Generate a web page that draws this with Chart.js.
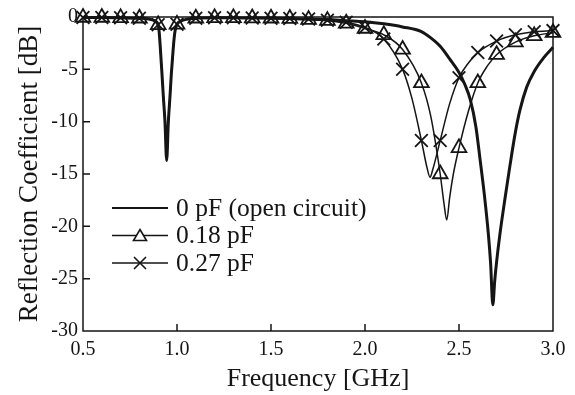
<!DOCTYPE html>
<html>
<head>
<meta charset="utf-8">
<script src="https://cdn.jsdelivr.net/npm/chart.js@4"></script>
<style>
  html, body { margin: 0; padding: 0; background: #fff; }
</style>
</head>
<body>
<canvas id="myChart" width="575" height="395"></canvas>
<script>
// low band (first resonance), shared by the three curves
const lowFreq = [0.5, 0.6, 0.7, 0.8, 0.85, 0.88, 0.9, 0.905, 0.91, 0.915, 0.92, 0.927, 0.936, 0.945, 0.954, 0.963, 0.97, 0.975, 0.98, 0.985, 0.99, 1.0, 1.02, 1.05, 1.1, 1.2, 1.3, 1.4, 1.5, 1.6]
const lowDb = [-0.05, -0.05, -0.08, -0.12, -0.2, -0.35, -0.75, -1.4, -2.6, -4.0, -5.4, -7.5, -10.0, -13.7, -10.0, -7.5, -5.4, -4.2, -3.0, -2.0, -1.3, -0.7, -0.4, -0.22, -0.12, -0.08, -0.08, -0.1, -0.12, -0.15]

// high band, per capacitance
const freqOpen = [1.7, 1.8, 1.9, 2.0, 2.1, 2.2, 2.3, 2.35, 2.4, 2.45, 2.5, 2.53, 2.56, 2.59, 2.612, 2.635, 2.656, 2.668, 2.68, 2.69, 2.7, 2.718, 2.745, 2.771, 2.8, 2.824, 2.86, 2.9, 2.95, 3.0]
const dbOpen = [-0.2, -0.25, -0.35, -0.45, -0.65, -0.95, -1.4, -2.0, -2.8, -4.0, -5.3, -6.4, -7.9, -10.5, -13.6, -17.0, -20.7, -23.5, -27.5, -25.2, -23.4, -20.7, -17.3, -14.2, -11.0, -8.9, -6.7, -5.2, -3.9, -2.9]

const freq018 = [1.7, 1.8, 1.9, 2.0, 2.1, 2.2, 2.3, 2.35, 2.4, 2.42, 2.435, 2.45, 2.47, 2.5, 2.55, 2.6, 2.65, 2.7, 2.8, 2.9, 3.0]
const db018 = [-0.25, -0.35, -0.6, -1.1, -1.7, -3.1, -6.3, -9.5, -15.0, -17.8, -19.4, -17.3, -15.0, -12.5, -9.0, -6.3, -4.7, -3.6, -2.4, -1.8, -1.5]

const freq027 = [1.7, 1.8, 1.9, 2.0, 2.1, 2.2, 2.25, 2.3, 2.33, 2.346, 2.36, 2.4, 2.45, 2.5, 2.55, 2.6, 2.7, 2.8, 2.9, 3.0]
const db027 = [-0.2, -0.3, -0.5, -1.0, -2.1, -5.0, -7.8, -11.8, -14.4, -15.3, -14.6, -11.8, -8.3, -5.8, -4.4, -3.4, -2.3, -1.7, -1.4, -1.3]

const seriesLabels = ['0 pF (open circuit)', '0.18 pF', '0.27 pF']
const xTicks = [0.5, 1.0, 1.5, 2.0, 2.5, 3.0]
const yTicks = [0, -5, -10, -15, -20, -25, -30]

const INK = '#151515'
const SERIF = '"Liberation Serif", "Times New Roman", serif'

function toPoints(f, d) {
  return f.map(function (x, i) { return { x: x, y: d[i] } })
}

// markers only every 0.1 GHz
function onGrid(ctx) {
  var x = ctx.raw ? ctx.raw.x : 0
  return Math.abs(x * 10 - Math.round(x * 10)) < 1e-6
}

var frameTicks = {
  id: 'frameTicks',
  afterDatasetsDraw: function (chart) {
    var ctx = chart.ctx, a = chart.chartArea
    var xs = chart.scales.x, ys = chart.scales.y
    ctx.save()
    ctx.strokeStyle = INK
    ctx.lineWidth = 1.5
    ctx.strokeRect(a.left, a.top, a.right - a.left, a.bottom - a.top)
    ctx.beginPath()
    xTicks.slice(1, -1).forEach(function (v) {
      var px = xs.getPixelForValue(v)
      ctx.moveTo(px, a.bottom)
      ctx.lineTo(px, a.bottom - 7)
    })
    yTicks.slice(1, -1).forEach(function (v) {
      var py = ys.getPixelForValue(v)
      ctx.moveTo(a.left, py)
      ctx.lineTo(a.left + 7, py)
    })
    ctx.stroke()
    ctx.restore()
  }
}

var legendBox = {
  id: 'legendBox',
  afterDraw: function (chart) {
    var ctx = chart.ctx, a = chart.chartArea
    var x0 = a.left + 29, x1 = a.left + 85, y0 = a.top + 191
    ctx.save()
    ctx.font = '25.5px ' + SERIF
    ctx.textBaseline = 'middle'
    ctx.fillStyle = INK
    ctx.strokeStyle = INK
    chart.data.datasets.forEach(function (ds, i) {
      var y = y0 + i * 27.5
      var cx = (x0 + x1) / 2
      ctx.lineWidth = i === 0 ? 2 : 1.3
      ctx.beginPath()
      ctx.moveTo(x0, y)
      ctx.lineTo(x1, y)
      ctx.stroke()
      ctx.lineWidth = 1.6
      if (ds.pointStyle === 'triangle') {
        ctx.beginPath()
        ctx.moveTo(cx, y - 6)
        ctx.lineTo(cx + 6.5, y + 5)
        ctx.lineTo(cx - 6.5, y + 5)
        ctx.closePath()
        ctx.fillStyle = '#fff'
        ctx.fill()
        ctx.stroke()
        ctx.fillStyle = INK
      } else if (ds.pointStyle === 'crossRot') {
        ctx.beginPath()
        ctx.moveTo(cx - 6, y - 6); ctx.lineTo(cx + 6, y + 6)
        ctx.moveTo(cx + 6, y - 6); ctx.lineTo(cx - 6, y + 6)
        ctx.stroke()
      }
      ctx.fillText(ds.label, x1 + 8, y + 1)
    })
    ctx.restore()
  }
}

document.addEventListener('DOMContentLoaded', function () {
  var ctx = document.getElementById('myChart').getContext('2d')
  var chart = new Chart(ctx, {
    type: 'line',
    data: {
      datasets: [{
        label: seriesLabels[0],
        data: toPoints(lowFreq.concat(freqOpen), lowDb.concat(dbOpen)),
        borderColor: INK,
        borderWidth: 3,
        pointRadius: 0,
        pointStyle: false,
        cubicInterpolationMode: 'monotone',
        clip: false
      }, {
        label: seriesLabels[1],
        data: toPoints(lowFreq.concat(freq018), lowDb.concat(db018)),
        borderColor: INK,
        borderWidth: 1.5,
        pointStyle: 'triangle',
        pointRadius: function (c) { return onGrid(c) ? 8.5 : 0 },
        pointBorderWidth: 1.8,
        pointBorderColor: INK,
        pointBackgroundColor: 'rgba(0,0,0,0)',
        cubicInterpolationMode: 'monotone',
        clip: false
      }, {
        label: seriesLabels[2],
        data: toPoints(lowFreq.concat(freq027), lowDb.concat(db027)),
        borderColor: INK,
        borderWidth: 1.5,
        pointStyle: 'crossRot',
        pointRadius: function (c) { return onGrid(c) ? 9 : 0 },
        pointBorderWidth: 1.8,
        pointBorderColor: INK,
        cubicInterpolationMode: 'monotone',
        clip: false
      }]
    },
    options: {
      responsive: false,
      animation: false,
      events: [],
      layout: { padding: { left: 0, top: 16, right: 22, bottom: 0 } },
      plugins: { legend: { display: false }, tooltip: { enabled: false } },
      scales: {
        x: {
          type: 'linear',
          min: 0.5,
          max: 3.0,
          afterFit: function (s) { s.height = 64 },
          afterBuildTicks: function (s) { s.ticks = xTicks.map(function (v) { return { value: v } }) },
          grid: { display: false, drawTicks: false },
          border: { display: false },
          ticks: {
            padding: 7,
            color: INK,
            font: { family: SERIF, size: 20 },
            maxRotation: 0,
            callback: function (v) { return v.toFixed(1) }
          },
          title: {
            display: true,
            text: 'Frequency [GHz]',
            color: INK,
            font: { family: SERIF, size: 26 },
            padding: { top: 0, bottom: 0 }
          }
        },
        y: {
          min: -30,
          max: 0,
          afterFit: function (s) { s.width = 83 },
          afterBuildTicks: function (s) { s.ticks = yTicks.map(function (v) { return { value: v } }) },
          grid: { display: false, drawTicks: false },
          border: { display: false },
          ticks: {
            padding: 5,
            color: INK,
            font: { family: SERIF, size: 20 },
            callback: function (v) { return String(v) }
          },
          title: {
            display: true,
            text: 'Reflection Coefficient [dB]',
            color: INK,
            font: { family: SERIF, size: 27 },
            padding: { top: 14, bottom: 0 }
          }
        }
      }
    },
    plugins: [frameTicks, legendBox]
  })
})
</script>
</body>
</html>
